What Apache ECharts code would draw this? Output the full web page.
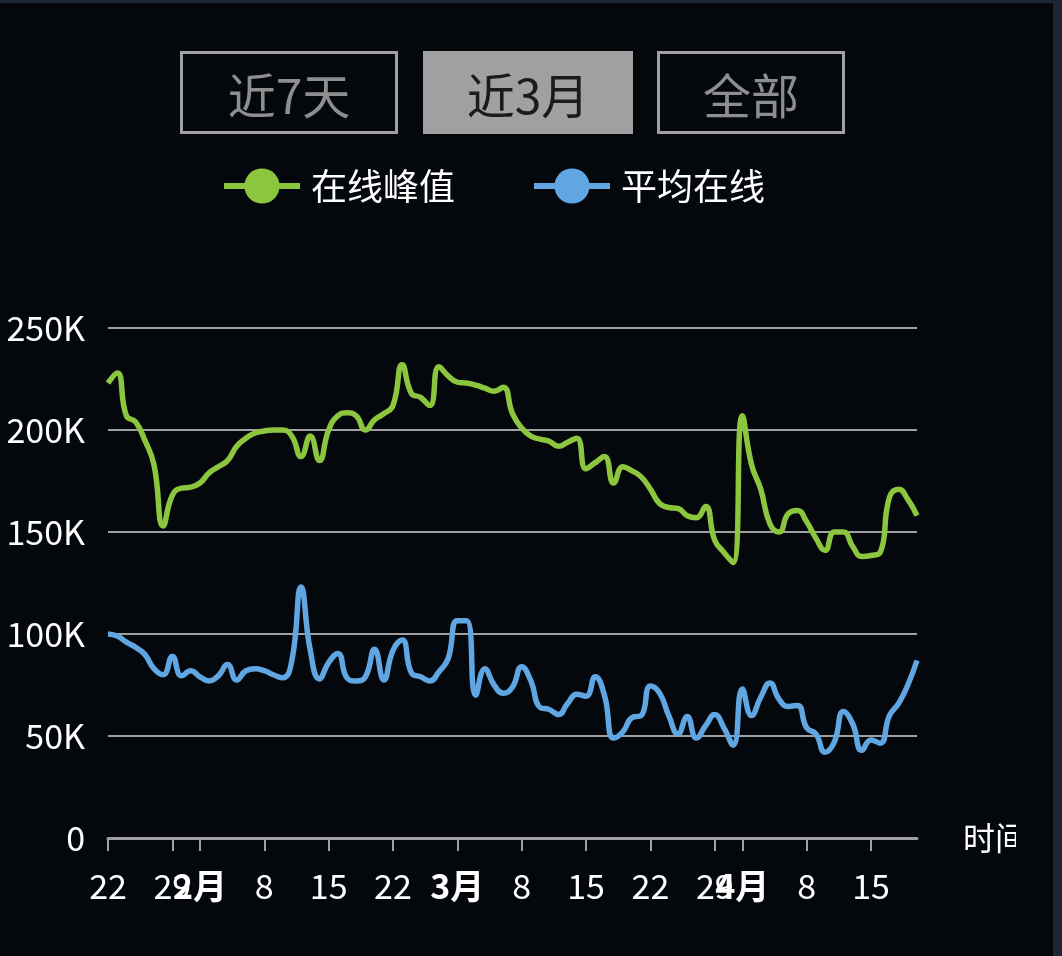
<!DOCTYPE html>
<html><head><meta charset="utf-8">
<script src="https://cdn.jsdelivr.net/npm/echarts@6/dist/echarts.min.js"></script>
<style>
html,body{margin:0;padding:0;background:#04070b;width:1062px;height:956px;overflow:hidden;}
#topbar{position:absolute;left:0;top:0;width:1062px;height:3px;background:#1c2637;}
#rightbar{position:absolute;left:1053px;top:0;width:9px;height:956px;background:#1c2637;}
#chart{position:absolute;left:0;top:0;width:1016px;height:956px;}
</style></head><body>
<div id="chart"></div><div id="topbar"></div><div id="rightbar"></div>
<script>
// ---- data ----
const startDate = '2023-01-22';   // first day of the series (daily points)
const seriesNames = ['在线峰值', '平均在线'];
const buttonLabels = ['近7天', '近3月', '全部'];
// 在线峰值, thousands
const peakK = [223,228,207,204,195,183,153,168,171.5,172,174,179,182,185,192,196,198.5,199.5,200,200,
  197,187,197,185,200,207,208.5,207,200,205,208,212,232,218,216,212,231,226.5,223.5,223,
  222,220.5,219,221,208,201,197,195.5,194.5,192,194,196,181,184,187,174,182,180,177,171,
  164,162,161.5,158,157,162.5,146,140,135,207,183,171,154,150,159,160.5,155,147,141,150,
  150,143,138,138.5,140,167,171,166,158];
// 平均在线, thousands
const avgK = [100,99,96,93.5,90,83,80,89,79.5,82,79,77,79.5,85,77.5,82,83,82,80,78.5,
  87,123,92,78,86,90.5,78.5,77,79,92.5,77.5,92,97,81,79,77,81.5,88,106.5,106.5,
  70,83,75,71,74,84,77,64,63,60.5,66,70.5,69.5,79,70,49,52,59,60,74.5,
  71,60,51,59.5,49,55,60.5,54,45.5,73,60,69,76,68,64.5,65,54,51,42,47,
  62,56,43,48,46.5,60,66,75,87];
const yTicks = [0, 50000, 100000, 150000, 200000, 250000];

// ---- build ----
const DAY = 86400000;
const t0 = new Date(startDate + 'T00:00:00').getTime();
const dates = peakK.map((_, i) => t0 + i * DAY);
const toPairs = arr => arr.map((v, i) => [dates[i], v * 1000]);

const FONT = '"Noto Sans CJK SC", "Noto Sans", sans-serif';
const GREEN = '#8cc63f', BLUE = '#5fa6e2', GREY = '#a0a0a0';

const btnBoxes = [[180, 218], [423, 210], [657, 188]];
const graphic = [];
buttonLabels.forEach((lab, i) => {
  const [x, w] = btnBoxes[i];
  const sel = i === 1;
  graphic.push({type: 'rect', shape: sel ? {x: x, y: 51, width: w, height: 83} : {x: x + 1.5, y: 52.5, width: w - 3, height: 80},
    style: sel ? {fill: GREY} : {fill: 'transparent', stroke: GREY, lineWidth: 3}});
  graphic.push({type: 'text', x: x + w / 2, y: 96,
    style: {text: lab, fill: sel ? '#1b1b1b' : '#8e8e8e', font: '48px ' + FONT, align: 'center', verticalAlign: 'middle'}});
});

const chart = echarts.init(document.getElementById('chart'), null, {renderer: 'canvas', locale: 'ZH'});
chart.setOption({
  animation: false,
  backgroundColor: 'transparent',
  textStyle: {fontFamily: FONT},
  graphic: graphic,
  legend: {
    left: 216, top: 163, itemWidth: 76, itemHeight: 44, itemGap: 76,
    data: seriesNames,
    lineStyle: {width: 6},
    textStyle: {color: '#ffffff', fontSize: 36, fontFamily: FONT, padding: [0, 0, 0, 6]}
  },
  grid: {left: 108, right: 1016 - 917, top: 328, bottom: 956 - 838, outerBoundsMode: 'none', containLabel: false},
  xAxis: {
    type: 'time', min: dates[0], max: dates[dates.length - 1],
    name: '时间', nameGap: 46,
    nameTextStyle: {color: '#ffffff', fontSize: 32, fontFamily: FONT},
    axisLine: {lineStyle: {color: GREY, width: 3}},
    axisTick: {length: 13, lineStyle: {color: GREY, width: 2}},
    axisLabel: {color: '#ffffff', fontSize: 34, margin: 31, fontFamily: FONT, hideOverlap: false},
    splitLine: {show: false}
  },
  yAxis: {
    type: 'value', min: yTicks[0], max: yTicks[yTicks.length - 1], interval: yTicks[1] - yTicks[0],
    axisLine: {show: false}, axisTick: {show: false},
    axisLabel: {color: '#ffffff', fontSize: 34, margin: 23, fontFamily: FONT,
      formatter: v => v === 0 ? '0' : (v / 1000) + 'K'},
    splitLine: {lineStyle: {color: GREY, width: 2}}
  },
  series: [
    {name: seriesNames[0], type: 'line', smooth: true, symbol: 'circle', symbolSize: 34, showSymbol: false,
      data: toPairs(peakK), itemStyle: {color: GREEN}, lineStyle: {color: GREEN, width: 5.5}},
    {name: seriesNames[1], type: 'line', smooth: true, symbol: 'circle', symbolSize: 34, showSymbol: false,
      data: toPairs(avgK), itemStyle: {color: BLUE}, lineStyle: {color: BLUE, width: 5.5}}
  ]
});
</script>
</body></html>
